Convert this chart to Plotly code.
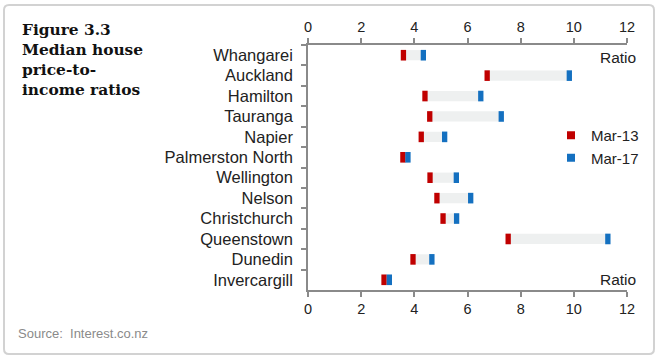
import plotly.graph_objects as go

cities = ["Whangarei", "Auckland", "Hamilton", "Tauranga", "Napier", "Palmerston North",
          "Wellington", "Nelson", "Christchurch", "Queenstown", "Dunedin", "Invercargill"]
mar13 = [3.59, 6.74, 4.40, 4.58, 4.26, 3.57, 4.59, 4.85, 5.08, 7.53, 3.95, 2.86]
mar17 = [4.34, 9.83, 6.50, 7.27, 5.14, 3.76, 5.58, 6.12, 5.59, 11.28, 4.66, 3.06]
x_ticks = [0, 2, 4, 6, 8, 10, 12]

RED = "#c00000"
BLUE = "#1470c0"
GREY_BAR = "#eef0f0"
AX = "#8a8a8a"
TXT = "#222222"
SANS = "Liberation Sans, Arial"
MW = 0.2  # marker width in data units

W, H = 660, 360
ML, MR, MT, MB = 308, 33, 45, 70

fig = go.Figure()
fig.add_trace(go.Bar(y=cities, x=[b - a for a, b in zip(mar13, mar17)], base=mar13,
                     orientation="h", width=0.5, marker=dict(color=GREY_BAR, line=dict(width=0)),
                     showlegend=False, hoverinfo="skip"))
fig.add_trace(go.Bar(y=cities, x=[MW] * len(mar13), base=[v - MW / 2 for v in mar13],
                     orientation="h", width=0.52, marker=dict(color=RED, line=dict(width=0)),
                     showlegend=False, name="Mar-13"))
fig.add_trace(go.Bar(y=cities, x=[MW] * len(mar17), base=[v - MW / 2 for v in mar17],
                     orientation="h", width=0.52, marker=dict(color=BLUE, line=dict(width=0)),
                     showlegend=False, name="Mar-17", xaxis="x2"))
fig.add_trace(go.Scatter(x=[None], y=[None], mode="markers", name="Mar-13",
                         marker=dict(symbol="square", size=8, color=RED)))
fig.add_trace(go.Scatter(x=[None], y=[None], mode="markers", name="Mar-17",
                         marker=dict(symbol="square", size=8, color=BLUE)))

axis_common = dict(range=[0, 12], tickvals=x_ticks, ticks="outside", ticklen=5,
                   tickcolor=AX, tickwidth=1.5, showline=True, linecolor=AX, linewidth=1.5,
                   showgrid=False, zeroline=False, automargin=False,
                   tickfont=dict(family=SANS, size=14.5, color=TXT))
fig.update_layout(
    width=W, height=H,
    margin=dict(l=ML, r=MR, t=MT, b=MB, autoexpand=False),
    paper_bgcolor="white", plot_bgcolor="white",
    barmode="overlay",
    xaxis=dict(side="bottom", **axis_common),
    xaxis2=dict(side="top", overlaying="x", matches="x", **axis_common),
    yaxis=dict(categoryorder="array", categoryarray=cities, range=[11.5, -0.5],
               ticks="outside", ticklen=5, tickcolor=AX, tickwidth=1.5, tickson="boundaries",
               showline=True, linecolor=AX, linewidth=1.5, showgrid=False, zeroline=False,
               ticklabelstandoff=10, automargin=False,
               tickfont=dict(family=SANS, size=16.5, color=TXT)),
    legend=dict(xref="container", yref="container", x=551 / W, y=1 - 119 / H,
                xanchor="left", yanchor="top", bgcolor="rgba(0,0,0,0)",
                font=dict(family=SANS, size=15, color=TXT),
                itemwidth=30, tracegroupgap=0),
    showlegend=True,
    font=dict(family=SANS),
)


def px(x):
    return (x - ML) / (W - ML - MR)


def py(y):
    return (H - MB - y) / (H - MB - MT)


fig.add_annotation(text="<b>Figure 3.3<br>Median house<br>price-to-<br>income ratios</b>",
                   xref="paper", yref="paper", x=px(20), y=py(19),
                   xanchor="left", yanchor="top", align="left", showarrow=False,
                   font=dict(family="DejaVu Serif", size=15.4, color="#111111"))
for yy in (58, 279):
    fig.add_annotation(text="Ratio", xref="paper", yref="paper", x=px(638), y=py(yy),
                       xanchor="right", yanchor="middle", showarrow=False,
                       font=dict(family=SANS, size=15.5, color=TXT))
fig.add_annotation(text="Source:&nbsp;&nbsp;Interest.co.nz", xref="paper", yref="paper",
                   x=px(16), y=py(333), xanchor="left", yanchor="middle",
                   showarrow=False, font=dict(family=SANS, size=13, color="#8a8a8a"))

L, R, T, B, rr = 4, 654, 5, 354, 5
path = (f"M {px(L + rr)},{py(T)} L {px(R - rr)},{py(T)} Q {px(R)},{py(T)} {px(R)},{py(T + rr)} "
        f"L {px(R)},{py(B - rr)} Q {px(R)},{py(B)} {px(R - rr)},{py(B)} "
        f"L {px(L + rr)},{py(B)} Q {px(L)},{py(B)} {px(L)},{py(B - rr)} "
        f"L {px(L)},{py(T + rr)} Q {px(L)},{py(T)} {px(L + rr)},{py(T)} Z")
fig.add_shape(type="path", path=path, xref="paper", yref="paper",
              line=dict(color="#d2d2d2", width=2), layer="below")

fig.write_html("out.html", config={"displayModeBar": False},
               post_script="document.body.style.margin='0';document.body.style.overflow='hidden';")
